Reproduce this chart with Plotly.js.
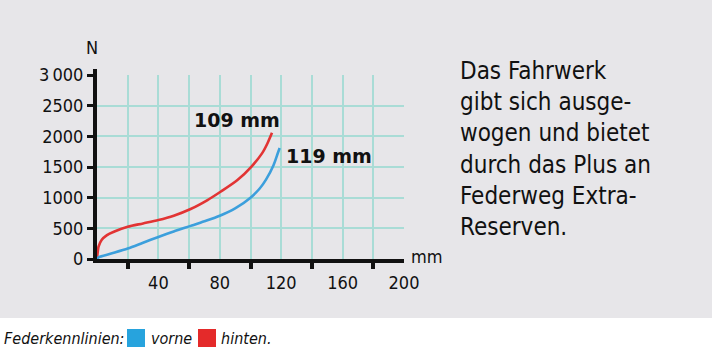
<!DOCTYPE html>
<html>
<head>
<meta charset="utf-8">
<script src="https://cdn.plot.ly/plotly-3.0.1.min.js"></script>
<style>
html,body{margin:0;padding:0;background:#e7e6e9;}
#chart{width:712px;height:359px;}
</style>
</head>
<body>
<div id="chart"></div>
<script>
// Federkennlinien (spring curves): travel in mm, force in N
const hintenX = [0, 0.5, 1, 3, 6.5, 11, 20, 30, 40, 50, 61, 72, 80.5, 91.5, 100.5, 107.5, 111, 114];
const hintenY = [0, 120, 200, 310, 390, 445, 526, 580, 635, 706, 815, 961, 1096, 1287, 1503, 1722, 1884, 2058];
const vorneX = [0, 1, 8.7, 20, 30, 40, 50, 61, 70, 80, 90, 100, 106, 110, 115, 117.7, 119];
const vorneY = [0, 28, 85, 170, 265, 360, 450, 540, 615, 705, 825, 1000, 1150, 1290, 1530, 1720, 1810];

const xTickVals = [40, 80, 120, 160, 200];
const xTickText = ['40', '80', '120', '160', '200'];
const xMinorVals = [20, 60, 100, 140, 180];
const yTickVals = [0, 500, 1000, 1500, 2000, 2500, 3000];
const yTickText = ['0', '500', '1000', '1500', '2000', '2500', '3\u2009000'];

const labelHinten = '109 mm';
const labelVorne = '119 mm';
const sideText = 'Das Fahrwerk<br>gibt sich ausge-<br>wogen und bietet<br>durch das Plus an<br>Federweg Extra-<br>Reserven.';
const legendTitle = 'Federkennlinien:';
const legendVorne = 'vorne';
const legendHinten = 'hinten.';

const BG = '#e7e6e9';
const GRID = '#a9dcd6';
const RED = '#e23434';
const BLUE = '#3c9fdc';
const COND = '"DejaVu Sans Condensed", sans-serif';

// pixel -> paper helpers (plot area: x 97..404, y 75..259)
const L = 97, R = 404, T = 75, B = 259;
const px = v => (v - L) / (R - L);
const py = v => (B - v) / (B - T);

const traces = [
  {x: hintenX, y: hintenY, mode: 'lines', line: {color: RED, width: 2.6, shape: 'spline', smoothing: 0.8}, hoverinfo: 'skip'},
  {x: vorneX, y: vorneY, mode: 'lines', line: {color: BLUE, width: 2.6, shape: 'spline', smoothing: 0.8}, hoverinfo: 'skip'}
];

const legendFont = {family: COND, size: 16, color: '#111'};

const layout = {
  width: 712, height: 359,
  margin: {l: L, r: 712 - R, t: T, b: 359 - B, pad: 0},
  paper_bgcolor: BG, plot_bgcolor: BG,
  showlegend: false,
  xaxis: {
    range: [0, 200], tickmode: 'array', tickvals: xTickVals, ticktext: xTickText,
    ticks: '', ticklabelstandoff: 4,
    showgrid: true, gridcolor: GRID, gridwidth: 2,
    minor: {tickmode: 'array', tickvals: xMinorVals, ticks: 'outside', ticklen: 6, tickwidth: 4, tickcolor: '#111', showgrid: true, gridcolor: GRID, gridwidth: 2},
    showline: true, linecolor: '#111', linewidth: 4,
    zeroline: false, fixedrange: true,
    tickfont: {family: COND, size: 18, color: '#111'}
  },
  yaxis: {
    range: [0, 3000], tickmode: 'array', tickvals: yTickVals, ticktext: yTickText,
    ticks: 'outside', ticklen: 6, tickwidth: 3, tickcolor: '#111',
    showgrid: true, gridcolor: GRID, gridwidth: 2,
    showline: true, linecolor: '#111', linewidth: 4,
    zeroline: false, fixedrange: true,
    tickfont: {family: COND, size: 18, color: '#111'}
  },
  shapes: [
    {type: 'rect', xref: 'paper', yref: 'paper', x0: px(-5), x1: px(720), y0: py(318), y1: py(365), fillcolor: '#ffffff', line: {width: 0}, layer: 'below'},
    {type: 'line', xref: 'paper', yref: 'paper', x0: px(95), x1: px(95), y0: py(75), y1: py(69), line: {color: '#111', width: 4}},
    {type: 'rect', xref: 'paper', yref: 'paper', x0: px(127), x1: px(145), y0: py(347), y1: py(329), fillcolor: '#27a3dd', line: {width: 0}},
    {type: 'rect', xref: 'paper', yref: 'paper', x0: px(198), x1: px(216), y0: py(347), y1: py(329), fillcolor: '#e42a2a', line: {width: 0}}
  ],
  annotations: [
    {text: 'N', xref: 'paper', yref: 'paper', x: px(92), y: py(47), xanchor: 'center', yanchor: 'middle', showarrow: false, font: {family: COND, size: 18, color: '#111'}},
    {text: 'mm', xref: 'paper', yref: 'paper', x: px(427), y: py(256), xanchor: 'center', yanchor: 'middle', showarrow: false, font: {family: COND, size: 18, color: '#111'}},
    {text: '<b>' + labelHinten + '</b>', xref: 'x', yref: 'y', x: 91, y: 2266, xanchor: 'center', yanchor: 'middle', showarrow: false, font: {family: '"DejaVu Sans", sans-serif', size: 19, color: '#111'}},
    {text: '<b>' + labelVorne + '</b>', xref: 'x', yref: 'y', x: 151, y: 1687, xanchor: 'center', yanchor: 'middle', showarrow: false, font: {family: '"DejaVu Sans", sans-serif', size: 19, color: '#111'}},
    {text: sideText, xref: 'paper', yref: 'paper', x: px(458), y: py(55), xanchor: 'left', yanchor: 'top', align: 'left', showarrow: false, font: {family: COND, size: 24, color: '#111'}},
    {text: '<i>' + legendTitle + '</i>', xref: 'paper', yref: 'paper', x: px(2), y: py(338), xanchor: 'left', yanchor: 'middle', showarrow: false, font: legendFont},
    {text: '<i>' + legendVorne + '</i>', xref: 'paper', yref: 'paper', x: px(149), y: py(338), xanchor: 'left', yanchor: 'middle', showarrow: false, font: legendFont},
    {text: '<i>' + legendHinten + '</i>', xref: 'paper', yref: 'paper', x: px(219), y: py(338), xanchor: 'left', yanchor: 'middle', showarrow: false, font: legendFont}
  ]
};

Plotly.newPlot('chart', traces, layout, {staticPlot: true, displayModeBar: false});
</script>
</body>
</html>
